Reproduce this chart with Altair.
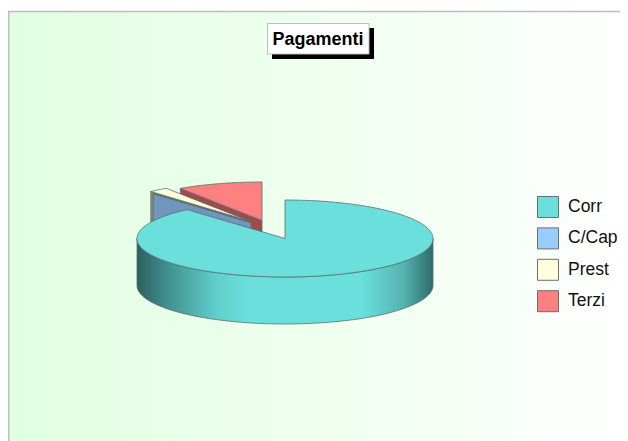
import math
import altair as alt
import pandas as pd

# ---- chart values -------------------------------------------------
categories = ["Corr", "C/Cap", "Prest", "Terzi"]
shares = [88.5, 0.1, 2.1, 9.3]
title_text = "Pagamenti"

# ---- styling ------------------------------------------------------
top_colors = ["#6ADFDC", "#99CCFF", "#FFFFDD", "#FF8080"]
wall_colors = {"C/Cap": "#7096BE", "Prest": "#8C8C70", "Terzi": "#A04A4A"}
EDGE = "#557070"

# pie geometry, in picture pixels
CX, CY, RX, RY, DEPTH = 285, 238.5, 148, 38.5, 47
PULL = {"Corr": (0, 0), "C/Cap": (-34, -16), "Prest": (-37, -18), "Terzi": (-23, -18)}

W, H = 612, 433
xs = alt.Scale(domain=[8, 8 + W], range=[0, W])
ys = alt.Scale(domain=[8 + H, 8], range=[H, 0])
X = alt.X("x:Q", scale=xs, axis=None)
Y = alt.Y("y:Q", scale=ys, axis=None)


def pt(theta, ox=0, oy=0):
    r = math.radians(theta)
    return CX + ox + RX * math.sin(r), CY + oy - RY * math.cos(r)


# slice boundaries, clockwise from twelve o'clock
spans = {}
a = 0.0
for c, s in zip(categories, shares):
    spans[c] = (a, a + s * 3.6)
    a += s * 3.6

tops, walls = [], []
for c in categories:
    a0, a1 = spans[c]
    ox, oy = PULL[c]
    n = max(2, int(a1 - a0) + 2)
    poly = [(CX + ox, CY + oy)] + [pt(a0 + (a1 - a0) * i / (n - 1), ox, oy) for i in range(n)]
    for i, (x, y) in enumerate(poly):
        tops.append({"cat": c, "i": i, "x": x, "y": y})
    if c != "Corr":
        tx, ty = pt(a0, ox, oy)
        ax, ay = CX + ox, CY + oy
        for i, (x, y) in enumerate([(ax, ay), (tx, ty), (tx, ty + DEPTH), (ax, ay + DEPTH)]):
            walls.append({"cat": c, "i": i, "x": x, "y": y})

tops = pd.DataFrame(tops)
walls = pd.DataFrame(walls)

rim = []
for d in range(90, 271):
    x, y = pt(d)
    rim.append({"x": x, "y": y, "y2": y + DEPTH})
rim = pd.DataFrame(rim)

poly_kw = dict(interpolate="linear-closed", strokeWidth=0.8, stroke=EDGE)


def wall_layer(c):
    return alt.Chart(walls[walls.cat == c]).mark_line(fill=wall_colors[c], **poly_kw).encode(
        x=X, y=Y, order="i:O")


def top_layer(c):
    i = categories.index(c)
    return alt.Chart(tops[tops.cat == c]).mark_line(fill=top_colors[i], **poly_kw).encode(
        x=X, y=Y, order="i:O")


bg = alt.Chart().mark_rect(
    stroke="#BDBDBD", strokeWidth=1.5,
    fill=alt.Gradient(gradient="linear", x1=0, x2=1, y1=0, y2=0,
                      stops=[alt.GradientStop(offset=0, color="#E0FFE0"),
                             alt.GradientStop(offset=0.55, color="#F1FFF1"),
                             alt.GradientStop(offset=1, color="#FFFFFF")]),
).encode(x=alt.value(0.75), x2=alt.value(W + 20), y=alt.value(3.5), y2=alt.value(H + 20))

wall_grad = alt.Gradient(
    gradient="linear", x1=0, x2=1, y1=0, y2=0,
    stops=[alt.GradientStop(offset=0, color="#2E5F60"),
           alt.GradientStop(offset=0.10, color="#3F8F8E"),
           alt.GradientStop(offset=0.27, color="#62CFCC"),
           alt.GradientStop(offset=0.38, color="#6ADFDC"),
           alt.GradientStop(offset=0.76, color="#6ADFDC"),
           alt.GradientStop(offset=0.90, color="#55B4B2"),
           alt.GradientStop(offset=1, color="#2E6B6C")])
corr_wall = alt.Chart(rim).mark_area(fill=wall_grad, stroke=EDGE, strokeWidth=0.8).encode(
    x=X, y=Y, y2="y2:Q")

# title box
shadow = alt.Chart().mark_rect(fill="#000000").encode(
    x=alt.value(264), x2=alt.value(366), y=alt.value(20), y2=alt.value(51))
box = alt.Chart().mark_rect(fill="#FFFFFF", stroke="#BDBDBD", strokeWidth=1).encode(
    x=alt.value(259.5), x2=alt.value(361), y=alt.value(15.5), y2=alt.value(46))
title = alt.Chart().mark_text(
    text=title_text, font="Liberation Sans", fontWeight="bold", fontSize=18, color="#000000",
    align="center", baseline="middle").encode(x=alt.value(310), y=alt.value(31.5))

# legend
legend_src = alt.Chart(pd.DataFrame({"cat": categories})).mark_point(opacity=0).encode(
    fill=alt.Fill("cat:N", scale=alt.Scale(domain=categories, range=top_colors),
                  legend=alt.Legend(
                      title=None, orient="none", legendX=529, legendY=188,
                      symbolType="square", symbolSize=441, symbolStrokeColor="#6E6E6E",
                      symbolStrokeWidth=1, symbolOpacity=1, rowPadding=5.4,
                      labelFont="Liberation Sans", labelFontSize=17.5, labelColor="#111111",
                      labelOffset=9)),
    x=alt.value(-50), y=alt.value(-50))

layers = [bg]
for c in ["Terzi", "Prest", "C/Cap"]:
    layers += [wall_layer(c)]
    layers += [top_layer(c)]
layers += [corr_wall, top_layer("Corr"), shadow, box, title, legend_src]

chart = alt.layer(*layers).properties(
    width=W, height=H, padding=0, background="#FFFFFF",
    autosize=alt.AutoSizeParams(type="none"),
).configure_view(stroke=None)

chart.save("out.html", embed_options={"renderer": "svg", "actions": False})
